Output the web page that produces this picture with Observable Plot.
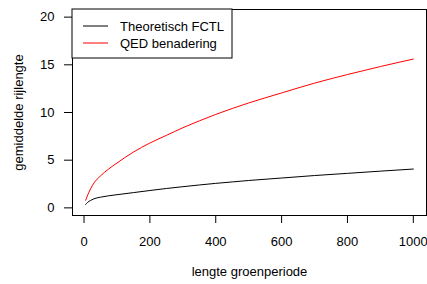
<!DOCTYPE html>
<html>
<head>
<meta charset="utf-8">
<script src="https://cdn.jsdelivr.net/npm/d3@7"></script>
<script src="https://cdn.jsdelivr.net/npm/@observablehq/plot@0.6"></script>
<style>
  html, body { margin: 0; padding: 0; background: #fff; }
  #chart svg { display: block; }
</style>
</head>
<body>
<div id="chart"></div>
<script>
const groenperiode = [5, 10, 20, 30, 50, 75, 100, 150, 200, 250, 300, 350, 400, 450, 500, 600, 700, 800, 900, 1000];
const theoretischFCTL = [0.36, 0.55, 0.78, 0.95, 1.12, 1.27, 1.38, 1.60, 1.82, 2.03, 2.22, 2.40, 2.57, 2.72, 2.87, 3.13, 3.39, 3.62, 3.85, 4.07];
const qedBenadering = [0.80, 1.25, 2.00, 2.60, 3.35, 4.08, 4.70, 5.85, 6.80, 7.60, 8.40, 9.12, 9.80, 10.42, 11.00, 12.05, 13.08, 13.98, 14.82, 15.60];
const seriesNames = ["Theoretisch FCTL", "QED benadering"];
const seriesColors = ["#000000", "#ff0000"];
const xTicks = [0, 200, 400, 600, 800, 1000];
const yTicks = [0, 5, 10, 15, 20];

(function () {
const rows = [];
groenperiode.forEach((x, i) => {
  rows.push({x, y: theoretischFCTL[i], s: seriesNames[0]});
  rows.push({x, y: qedBenadering[i], s: seriesNames[1]});
});

const font = "'Liberation Sans', Arial, sans-serif";
const plot = Plot.plot({
  width: 427,
  height: 284,
  marginLeft: 72,
  marginRight: 1,
  marginTop: 9,
  marginBottom: 69,
  style: {fontFamily: font, fontSize: "13px", color: "#000", background: "#fff"},
  x: {domain: [-35, 1040]},
  y: {domain: [-0.8, 20.8]},
  color: {domain: seriesNames, range: seriesColors},
  marks: [
    Plot.axisX({ticks: xTicks, tickSize: 8, tickPadding: 13, tickFormat: d => String(d), fontSize: 13,
      label: "lengte groenperiode", labelAnchor: "center", labelOffset: 60, labelArrow: "none"}),
    Plot.axisY({ticks: yTicks, tickSize: 8, tickPadding: 10, tickFormat: d => String(d), fontSize: 13,
      label: "gemiddelde rijlengte", labelAnchor: "center", labelOffset: 59, labelArrow: "none"}),
    Plot.frame({stroke: "#000", strokeWidth: 1}),
    Plot.line(rows, {x: "x", y: "y", z: "s", stroke: "s", strokeWidth: 1, curve: "monotone-x"})
  ]
});
document.getElementById("chart").appendChild(plot);

// Legend (R-style box in the top-left corner of the plot region)
const svg = d3.select(plot);
const sx = plot.scale("x"), sy = plot.scale("y");
const left0 = sx.range[0], top0 = sy.range[1];
const lg = svg.append("g").attr("font-family", font).attr("font-size", 13).attr("text-anchor", "start");
lg.append("rect").attr("x", left0).attr("y", top0).attr("width", 160).attr("height", 49)
  .attr("fill", "#fff").attr("stroke", "#000");
seriesNames.forEach((name, i) => {
  const yy = top0 + 17 + i * 17;
  lg.append("line").attr("x1", left0 + 11).attr("x2", left0 + 36).attr("y1", yy).attr("y2", yy)
    .attr("stroke", seriesColors[i]).attr("stroke-width", 1);
  lg.append("text").attr("x", left0 + 48).attr("y", yy).attr("dy", "0.35em")
    .attr("text-anchor", "start").attr("fill", "#000").text(name);
});
})();
</script>
</body>
</html>
